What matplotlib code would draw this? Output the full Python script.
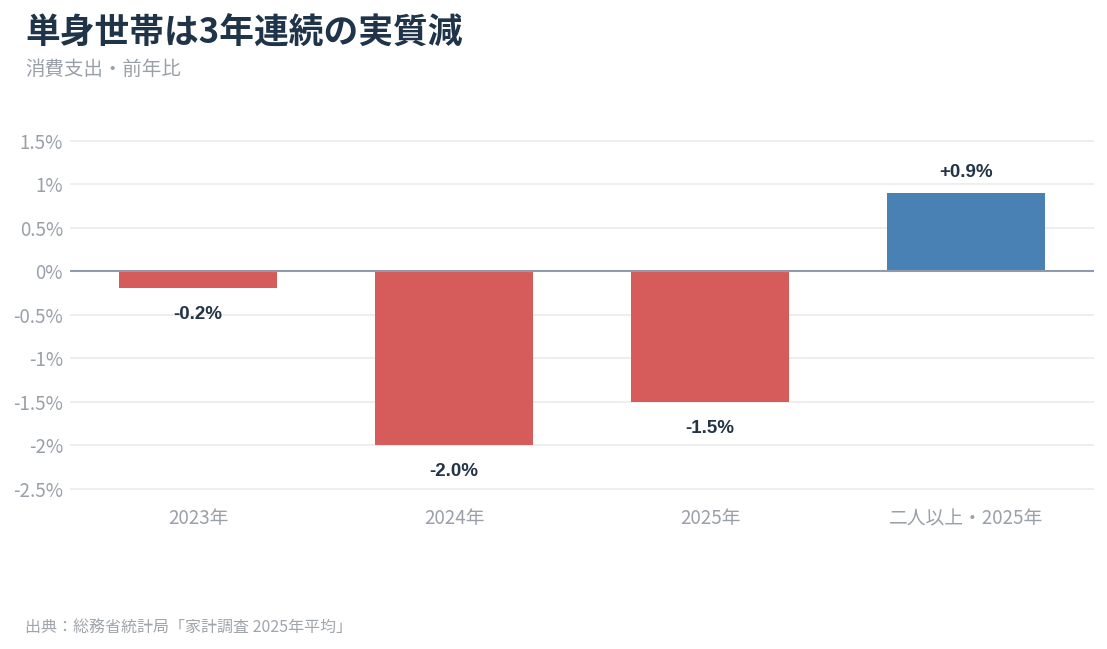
import matplotlib
matplotlib.use("Agg")
import matplotlib.pyplot as plt

categories = ["2023年", "2024年", "2025年", "二人以上・2025年"]
values = [-0.2, -2.0, -1.5, 0.9]
labels = ["-0.2%", "-2.0%", "-1.5%", "+0.9%"]
yticks = [1.5, 1.0, 0.5, 0.0, -0.5, -1.0, -1.5, -2.0, -2.5]
ytick_labels = ["1.5%", "1%", "0.5%", "0%", "-0.5%", "-1%", "-1.5%", "-2%", "-2.5%"]

CJK = ["Noto Sans CJK JP", "DejaVu Sans"]
plt.rcParams['font.family'] = CJK

W, H = 1107, 649
fig = plt.figure(figsize=(W / 100, H / 100), dpi=100)
fig.patch.set_facecolor("white")

ymin, ymax = -2.6, 1.7
top_px, bot_px = 271 - 87 * ymax, 271 - 87 * ymin
ax = fig.add_axes([70 / W, (H - bot_px) / H, (1094 - 70) / W, (bot_px - top_px) / H])
ax.set_xlim(-0.5, 3.5)
ax.set_ylim(ymin, ymax)

red = "#d65c5c"
blue = "#4a81b4"
colors = [red if v < 0 else blue for v in values]
x = list(range(len(categories)))
ax.bar(x, values, width=0.62, color=colors, zorder=3)

for xi, v, lab in zip(x, values, labels):
    if v < 0:
        ax.annotate(lab, (xi, v), xytext=(0, -13), textcoords="offset points",
                    ha="center", va="top", fontsize=13.5, fontweight="bold",
                    color="#243447", family=["Liberation Sans", "DejaVu Sans"])
    else:
        ax.annotate(lab, (xi, v), xytext=(0, 8.5), textcoords="offset points",
                    ha="center", va="bottom", fontsize=13.5, fontweight="bold",
                    color="#243447", family=["Liberation Sans", "DejaVu Sans"])

ax.set_yticks(yticks)
ax.set_yticklabels(ytick_labels)
ax.set_xticks(x)
ax.set_xticklabels(categories)
ax.tick_params(axis="both", length=0, colors="#9aa0a8", labelsize=13.5)
ax.tick_params(axis="y", pad=5)
ax.tick_params(axis="x", pad=8)
for lab in ax.get_yticklabels() + ax.get_xticklabels():
    lab.set_color("#9aa0a8")

ax.grid(axis="y", color="#ebebeb", linewidth=1.2, zorder=0)
ax.set_axisbelow(True)
ax.axhline(0, color="#8f9aab", linewidth=1.5, zorder=4)
for s in ax.spines.values():
    s.set_visible(False)

fig.text(25 / W, 1 - 33 / H, "単身世帯は3年連続の実質減", fontsize=25, fontweight="bold",
         color="#1f3349", va="center", ha="left")
fig.text(25 / W, 1 - 69 / H, "消費支出・前年比", fontsize=14, color="#9aa0a8",
         va="center", ha="left")
fig.text(25 / W, 1 - 627 / H, "出典：総務省統計局「家計調査 2025年平均」", fontsize=11.5,
         color="#a0a5ab", va="center", ha="left")

fig.savefig("out.png", dpi=100, facecolor="white")
